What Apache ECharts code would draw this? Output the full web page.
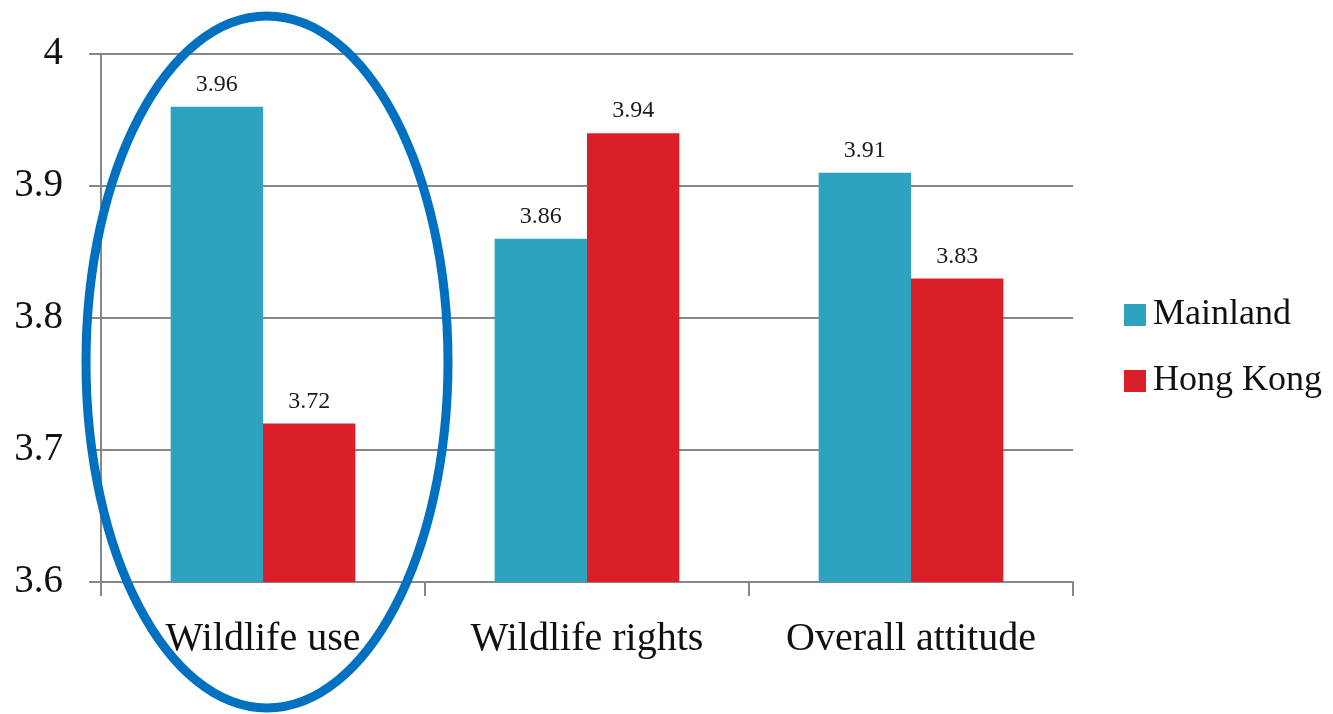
<!DOCTYPE html>
<html>
<head>
<meta charset="utf-8">
<script src="https://cdn.jsdelivr.net/npm/echarts@6/dist/echarts.min.js"></script>
<style>
  html, body { margin: 0; padding: 0; background: #fff; }
  #chart { width: 1333px; height: 714px; }
</style>
</head>
<body>
<div id="chart"></div>
<script>
// Attitude scores by dimension, Mainland vs Hong Kong
const categories = ['Wildlife use', 'Wildlife rights', 'Overall attitude'];
const mainland = [3.96, 3.86, 3.91];
const hongKong = [3.72, 3.94, 3.83];
const yTicks = [3.6, 3.7, 3.8, 3.9, 4];

const FONT = '"Liberation Serif", "DejaVu Serif", serif';
const GRID = '#878787';

const chart = echarts.init(document.getElementById('chart'));

const valueLabel = {
  show: true,
  position: 'top',
  distance: 10,
  fontFamily: FONT,
  fontSize: 24,
  color: '#1a1a1a',
  formatter: p => p.value.toFixed(2)
};

chart.setOption({
  animation: false,
  backgroundColor: '#fff',
  grid: { left: 101, right: 260, top: 54, bottom: 132 },
  legend: {
    orient: 'vertical',
    left: 1119,
    top: 292,
    itemWidth: 22,
    itemHeight: 22,
    itemGap: 30,
    icon: 'rect',
    textStyle: { fontFamily: FONT, fontSize: 36, color: '#111', padding: [0, 0, 0, 2] },
    data: ['Mainland', 'Hong Kong']
  },
  xAxis: {
    type: 'category',
    data: categories,
    axisLine: { lineStyle: { color: GRID, width: 2 } },
    axisTick: { show: true, interval: 0, length: 14, lineStyle: { color: GRID, width: 2 } },
    axisLabel: {
      interval: 0, hideOverlap: false,
      fontFamily: FONT, fontSize: 40, color: '#111', margin: 37
    }
  },
  yAxis: {
    type: 'value',
    min: yTicks[0],
    max: yTicks[yTicks.length - 1],
    interval: 0.1,
    axisLine: { show: true, lineStyle: { color: GRID, width: 2 } },
    axisTick: { show: true, length: 12, lineStyle: { color: GRID, width: 2 } },
    splitLine: { lineStyle: { color: GRID, width: 2 } },
    axisLabel: {
      fontFamily: FONT, fontSize: 39, color: '#111', margin: 38,
      formatter: v => {
        const t = yTicks.find(x => Math.abs(x - v) < 1e-6);
        return t === undefined ? '' : String(t);
      }
    }
  },
  series: [
    {
      name: 'Mainland', type: 'bar', data: mainland,
      barGap: '0%', barCategoryGap: '43%',
      itemStyle: { color: '#2EA3BF' },
      label: valueLabel
    },
    {
      name: 'Hong Kong', type: 'bar', data: hongKong,
      itemStyle: { color: '#DA1F28' },
      label: valueLabel
    }
  ]
});

// Highlight ring around the first category group
const cx = chart.convertToPixel({ xAxisIndex: 0 }, categories[0]) + 4;
chart.setOption({
  graphic: [{
    type: 'ellipse',
    z: 100,
    shape: { cx: cx, cy: 362, rx: 181, ry: 346 },
    style: { fill: 'none', stroke: '#0070C0', lineWidth: 9 }
  }]
});
</script>
</body>
</html>
